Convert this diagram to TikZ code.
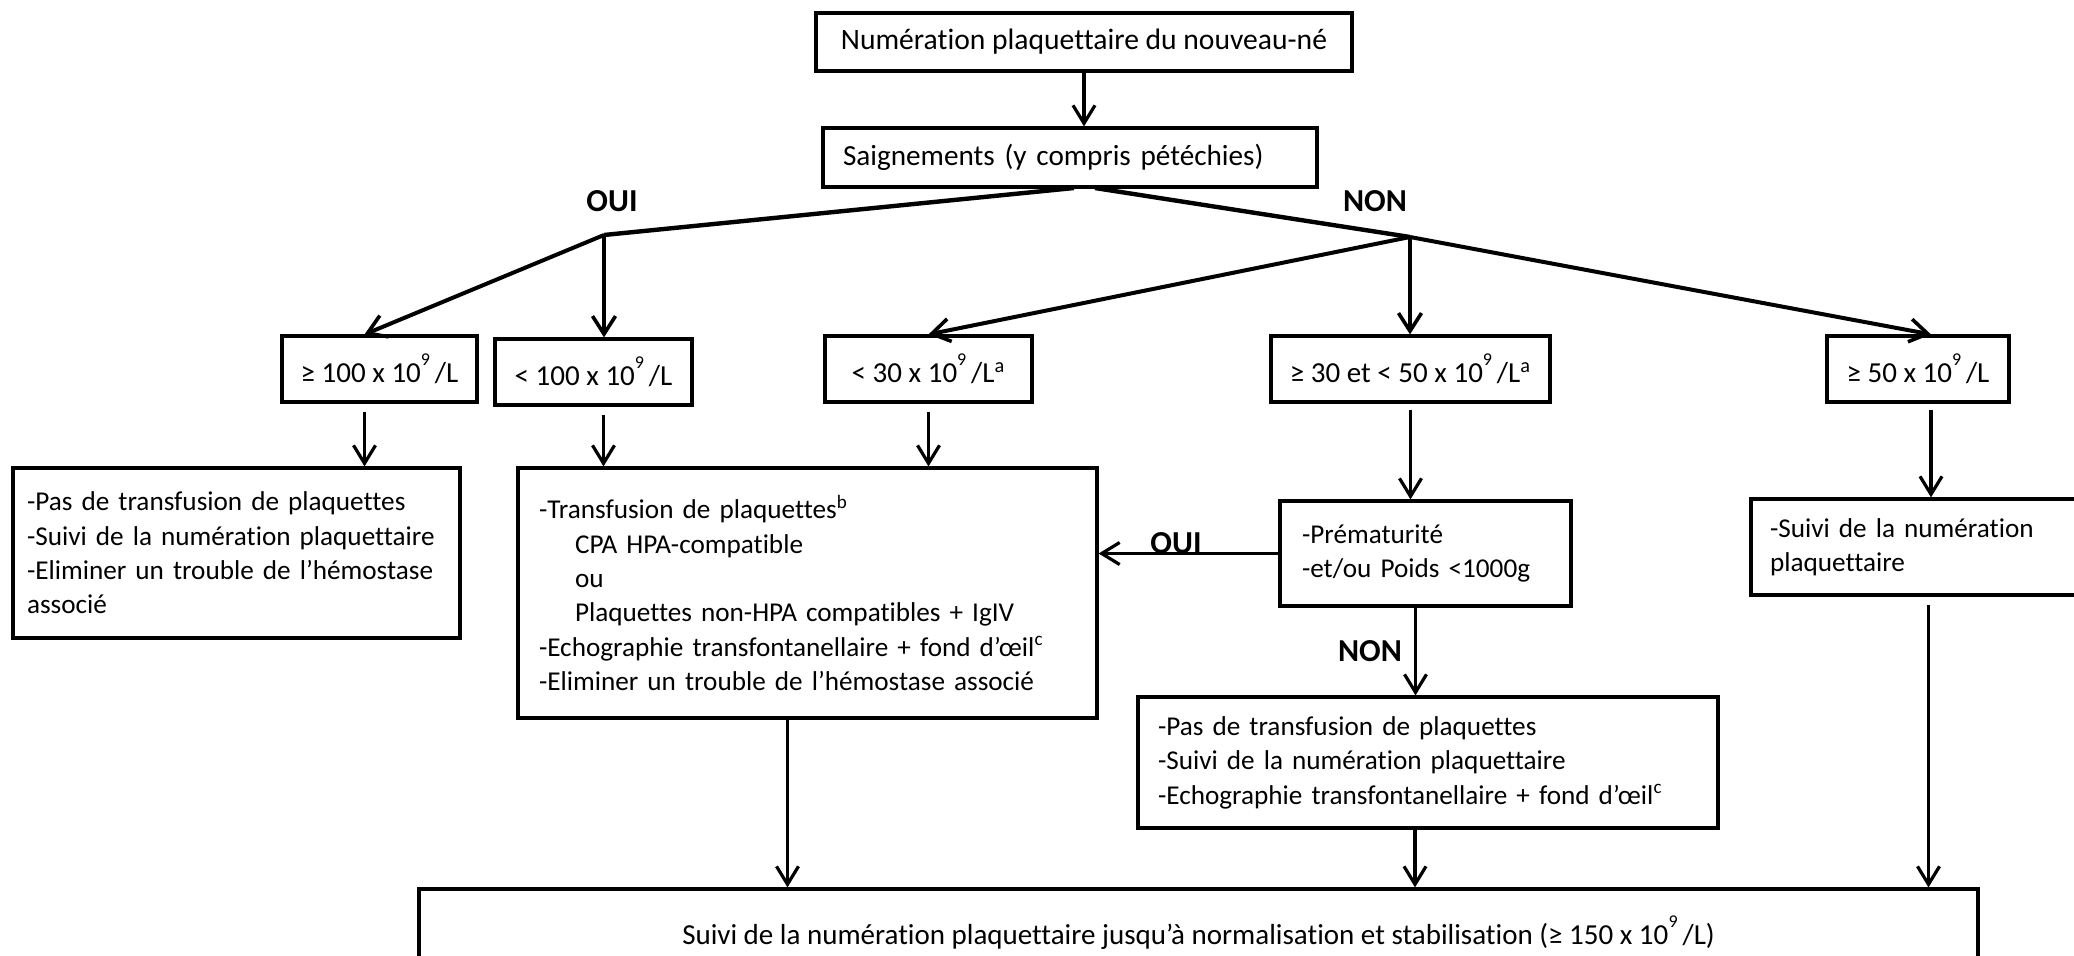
\documentclass[tikz,border=0pt]{standalone}
\usepackage{fontspec}
\setmainfont{Carlito}[Ligatures=NoCommon]
\usetikzlibrary{arrows.meta}
\usetikzlibrary{calc}
\tikzset{
    cadre/.style = {rectangle, draw=black, line width=1.6pt, inner sep=0pt, align=center, font=\fontsize{14.5}{17.5}\selectfont},
    bloc/.style = {cadre, align=left, font=\fontsize{13.6}{17.2}\selectfont},
    seuil/.style = {cadre, minimum height=33pt},
    fleche/.style = {-{Straight Barb[length=9pt,width=11pt,line width=1.6pt]}, line width=1.6pt},
    branche/.style = {line width=2.2pt},
    flecheb/.style = {line width=2pt, -{Straight Barb[length=9pt,width=11.5pt,line width=1.8pt]}},
    rep/.style = {font=\fontsize{16}{18}\selectfont\bfseries},
}
\newcommand{\expo}[1]{\raisebox{1.2ex}{\fontsize{9}{9}\selectfont #1}}

\begin{document}
\begin{tikzpicture}[x=0.5pt,y=-0.5pt]
\useasboundingbox (0,0) rectangle (2074,955);
\node[cadre, minimum width=268pt, minimum height=29pt, font=\fontsize{14.8}{17.5}\selectfont] at (1084,42) (num) {Numération plaquettaire du nouveau-né};
\node[cadre, align=left, text width=227pt, inner xsep=10pt, minimum height=29.5pt, font=\fontsize{14.6}{17.5}\selectfont] at (1070,157.5) (sgn) {Saignements (y compris pétéchies)};
%
\node[seuil, minimum width=97.5pt] at (379.5,369) (g100) {≥ 100 x 10\expo{9}\,/L};
\node[seuil, minimum width=98.5pt] at (593.5,372) (l100) {< 100 x 10\expo{9}\,/L};
\node[seuil, minimum width=103.5pt] at (928.5,369) (l30) {< 30 x 10\expo{9}\,/L\textsuperscript{a}};
\node[seuil, minimum width=139.5pt] at (1410.5,369) (g30) {≥ 30 et < 50 x 10\expo{9}\,/L\textsuperscript{a}};
\node[seuil, minimum width=91pt] at (1918,369) (g50) {≥ 50 x 10\expo{9}\,/L};
%
\node[bloc, text width=209.5pt, inner xsep=7pt, minimum height=85pt] at (236.5,553) (pas) {-Pas de transfusion de plaquettes\\-Suivi de la numération plaquettaire\\-Eliminer un trouble de l’hémostase\\associé};
\node[bloc, text width=268.5pt, inner xsep=10.5pt, minimum height=125pt] at (807.5,593) (trf) {-Transfusion de plaquettes\textsuperscript{b}\\\hspace*{18pt}CPA HPA-compatible\\\hspace*{18pt}ou\\\hspace*{18pt}Plaquettes non-HPA compatibles + IgIV\\-Echographie transfontanellaire + fond d’œil\textsuperscript{c}\\-Eliminer un trouble de l’hémostase associé};
\node[bloc, text width=123.5pt, inner xsep=11pt, minimum height=52.5pt] at (1425.5,553.5) (prem) {-Prématurité\\-et/ou Poids <1000g};
\node[bloc, text width=150.5pt, inner xsep=9.5pt, minimum height=48pt] at (1920.5,547) (suivi) {-Suivi de la numération\\plaquettaire};
\node[bloc, text width=270pt, inner xsep=10pt, minimum height=65.5pt] at (1428,762.5) (nonb) {-Pas de transfusion de plaquettes\\-Suivi de la numération plaquettaire\\-Echographie transfontanellaire + fond d’œil\textsuperscript{c}};
\node[cadre, minimum width=779.5pt, minimum height=45pt] at (1198.5,934) (fin) {\raisebox{4pt}{Suivi de la numération plaquettaire jusqu’à normalisation et stabilisation (≥ 150 x 10\expo{9}\,/L)}};
%
\node[rep] at (612,201) (ouiA) {OUI};
\node[rep] at (1375,201) (nonA) {NON};
\node[rep] at (1176,543) (ouiB) {OUI};
\node[rep] at (1370,651) (nonB) {NON};
%
\coordinate (sgg) at (1074,188);
\coordinate (sgd) at (1095,188);
\coordinate (oui) at (604,235);
\coordinate (non) at (1410,237);
% points de depart des fleches verticales
\coordinate (d100) at ($(g100.south)+(-15,0)$);
\coordinate (d100b) at ($(l100.south)+(10,0)$);
\coordinate (d50) at ($(g50.south)+(13,0)$);
\coordinate (dpr) at ($(prem.south)+(-10,0)$);
\coordinate (dtr) at ($(trf.south)+(-20,0)$);
\coordinate (dnb) at ($(nonb.south)+(-13,0)$);
\coordinate (dsv) at ($(suivi.south)+(8,0)$);
%
\draw[fleche] (num.south) -- (num.south |- sgn.north);
\draw[branche] (sgg) -- (oui);
\draw[branche] (sgd) -- (non);
\draw[flecheb] (oui) -- (d100 |- g100.north);
\draw[flecheb] (oui) -- (oui |- l100.north);
\draw[flecheb] (non) -- (l30.north);
\draw[flecheb] (non) -- (non |- g30.north);
\draw[flecheb] (non) -- (d50 |- g50.north);
%
\draw[fleche, shorten <=4pt] (d100) -- (d100 |- pas.north);
\draw[fleche, shorten <=4pt] (d100b) -- (d100b |- trf.north);
\draw[fleche, shorten <=4pt] (l30.south) -- (l30.south |- trf.north);
\draw[fleche, shorten <=3pt] (g30.south) -- (g30.south |- prem.north);
\draw[fleche, shorten <=3pt] (d50) -- (d50 |- suivi.north);
\draw[fleche] (prem.west) -- (prem.west -| trf.east);
\draw[fleche] (dpr) -- (dpr |- nonb.north);
%
\draw[fleche] (dtr) -- (dtr |- fin.north);
\draw[fleche] (dnb) -- (dnb |- fin.north);
\draw[fleche, shorten <=4pt] (dsv) -- (dsv |- fin.north);

\end{tikzpicture}
\end{document}
